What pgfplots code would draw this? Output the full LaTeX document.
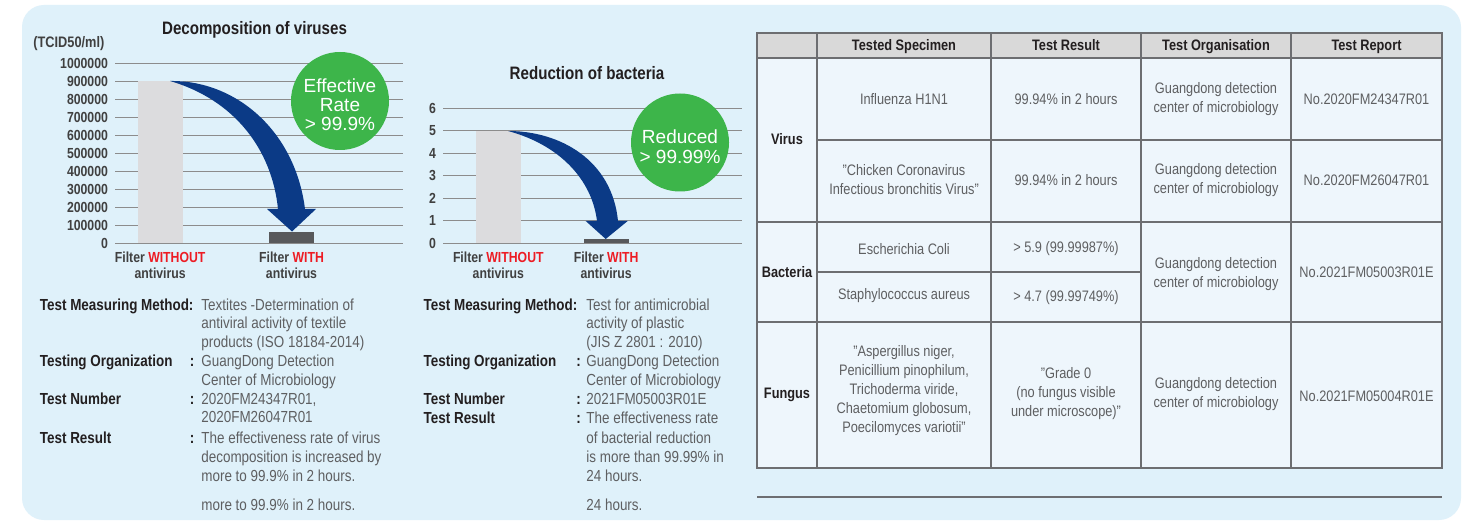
\documentclass[border=0pt]{standalone}
\usepackage{pgfplots}
\pgfplotsset{compat=1.18}
\usepackage{fontspec}
\setmainfont{Liberation Sans}[FakeStretch=0.84]
\newfontfamily\circfont{Liberation Sans}
\newcommand{\q}{\symbol{34}}
\definecolor{bgblue}{HTML}{DFF1FA}
\definecolor{cellblue}{HTML}{EEF6FC}
\definecolor{headgray}{HTML}{D9D9D9}
\definecolor{linegray}{HTML}{6D6E71}
\definecolor{gridgray}{HTML}{8C8C8C}
\definecolor{lightbar}{HTML}{DCDCDE}
\definecolor{darkbar}{HTML}{58595B}
\definecolor{arrowblue}{HTML}{0B3A86}
\definecolor{circgreen}{HTML}{3DB54A}
\definecolor{redw}{HTML}{ED1C24}
\definecolor{labcol}{HTML}{231F20}
\definecolor{valcol}{HTML}{5E5F61}
\definecolor{tickcol}{HTML}{404040}
\pgfplotsset{
  chartaxis/.style={
    anchor=south west, scale only axis,
    axis line style={draw=none}, major tick length=0pt,
    ymajorgrids, grid style={draw=gridgray, line width=0.55pt},
    xtick={0,1},
    xticklabels={{Filter \textcolor{redw}{WITHOUT}\\antivirus},{Filter \textcolor{redw}{WITH}\\antivirus}},
    scaled y ticks=false,
    /pgf/number format/fixed, /pgf/number format/1000 sep={},
    /pgf/number format/assume math mode=true,
    yticklabel style={font=\bfseries\fontsize{7.3}{8}\selectfont, text=tickcol},
    xticklabel style={align=center, font=\bfseries\fontsize{7.3}{8}\selectfont, text=tickcol, yshift=-1pt},
    clip=false,
  }
}
\begin{document}
\begin{tikzpicture}
\useasboundingbox (0,0) rectangle (732.5pt,260pt);
\fill[white] (0,0) rectangle (732.5pt,260pt);
\begin{scope}[x=0.5pt,y=-0.5pt,shift={(0,260pt)}]
  \fill[bgblue, rounded corners=11pt] (22,5) rectangle (1461,520);
  % table
  \fill[cellblue] (757,33) rectangle (1442,468);
  \fill[headgray] (757,33) rectangle (1442,58);
  \begin{scope}[draw=linegray, line width=0.6pt]
    \draw (757,33) rectangle (1442,468);
    \foreach \xx in {817,991,1141,1291} \draw (\xx,33) -- (\xx,468);
    \draw (757,58) -- (1442,58);
    \draw (817,140) -- (1442,140);
    \draw (757,222) -- (1442,222);
    \draw (817,272) -- (1141,272);
    \draw (757,322) -- (1442,322);
    \draw (757,497) -- (1442,497);
  \end{scope}
  \tikzset{th/.style={align=center, inner sep=0, font=\bfseries\fontsize{7.6}{9.5}\selectfont, text=labcol},
           tb/.style={align=center, inner sep=0, font=\fontsize{7.6}{9.5}\selectfont, text=valcol}}
  \node[th, anchor=base] at (904,50.5) {Tested Specimen};
  \node[th, anchor=base] at (1066,50.5) {Test Result};
  \node[th, anchor=base] at (1216,50.5) {Test Organisation};
  \node[th, anchor=base] at (1366.5,50.5) {Test Report};
  \node[th] at (787,139) {Virus};
  \node[th] at (787,272) {Bacteria};
  \node[th] at (787,395) {Fungus};
  \node[tb] at (904,99) {Influenza H1N1};
  \node[tb] at (1066,99) {99.94\% in 2 hours};
  \node[tb] at (1216,99.5) {Guangdong detection\\center of microbiology};
  \node[tb] at (1366.5,99) {No.2020FM24347R01};
  \node[tb] at (904,179.5) {\q Chicken Coronavirus\\Infectious bronchitis Virus\q};
  \node[tb] at (1066,180) {99.94\% in 2 hours};
  \node[tb] at (1216,180.5) {Guangdong detection\\center of microbiology};
  \node[tb] at (1366.5,180) {No.2020FM26047R01};
  \node[tb] at (904,249) {Escherichia Coli};
  \node[tb] at (1066,249) {> 5.9 (99.99987\%)};
  \node[tb] at (904,296) {Staphylococcus aureus};
  \node[tb] at (1066,298) {> 4.7 (99.99749\%)};
  \node[tb] at (1216,274.5) {Guangdong detection\\center of microbiology};
  \node[tb] at (1366.5,272) {No.2021FM05003R01E};
  \node[tb] at (904,391) {\q Aspergillus niger,\\Penicillium pinophilum,\\Trichoderma viride,\\Chaetomium globosum,\\Poecilomyces variotii\q};
  \node[tb] at (1066,394) {\q Grade 0\\(no fungus visible\\under microscope)\q};
  \node[tb] at (1216,394.5) {Guangdong detection\\center of microbiology};
  \node[tb] at (1366.5,396) {No.2021FM05004R01E};
\end{scope}

% chart 1
\begin{axis}[chartaxis, at={(57.5pt,138.35pt)}, width=144pt, height=90pt,
  xmin=-0.344, xmax=1.849, ymin=0, ymax=1000000,
  ytick={0,100000,200000,300000,400000,500000,600000,700000,800000,900000,1000000}]
  \addplot[ybar, bar width=0.343, fill=lightbar, draw=none] coordinates {(0,900000)};
  \addplot[ybar, bar width=0.343, fill=darkbar, draw=none] coordinates {(1,65000)};
\end{axis}
% chart 2
\begin{axis}[chartaxis, at={(221.5pt,138.35pt)}, width=149.5pt, height=67.5pt,
  xmin=-0.5125, xmax=2.2586, ymin=0, ymax=6,
  ytick={0,1,2,3,4,5,6}]
  \addplot[ybar, bar width=0.414, fill=lightbar, draw=none] coordinates {(0,5)};
  \addplot[ybar, bar width=0.414, fill=darkbar, draw=none] coordinates {(1,0.2)};
\end{axis}

\begin{scope}[x=0.5pt,y=-0.5pt,shift={(0,260pt)}]
  % arrows
  \fill[arrowblue] (170,81) .. controls (235,80) and (295,130) .. (305,209) -- (316,209) -- (292,231.5) -- (267,209) -- (278,209) .. controls (272,150) and (235,100) .. (170,81) -- cycle;
  \fill[arrowblue] (508,131) .. controls (560,131) and (612,160) .. (618,221) -- (627.7,221) -- (605.7,239) -- (585.7,221) -- (597,221) .. controls (592,180) and (560,145) .. (508,131) -- cycle;
  % circles
  \fill[circgreen] (340,101) circle (49);
  \fill[circgreen] (680,142.5) circle (49);
  \node[align=center, inner sep=0, text=white, font=\circfont\fontsize{9.5}{9.5}\selectfont] at (340,105) {Effective\\Rate\\> 99.9\%};
  \node[align=center, inner sep=0, text=white, font=\circfont\fontsize{9.5}{10}\selectfont] at (680,147) {Reduced\\> 99.99\%};
  % titles
  \node[anchor=base, inner sep=0, font=\bfseries\fontsize{9}{10}\selectfont, text=labcol] at (254.5,35) {Decomposition of viruses};
  \node[anchor=base, inner sep=0, font=\bfseries\fontsize{9}{10}\selectfont, text=labcol] at (587,80) {Reduction of bacteria};
  \node[anchor=base west, inner sep=0, font=\bfseries\fontsize{7.6}{8}\selectfont, text=tickcol] at (33,47.5) {(TCID50/ml)};
  % text blocks
  \tikzset{lab/.style={anchor=base west, inner sep=0, font=\bfseries\fontsize{8}{9.6}\selectfont, text=labcol},
           val/.style={anchor=base west, inner sep=0, font=\fontsize{8}{9.6}\selectfont, text=valcol}}
  \node[lab] at (39.5,310) {Test Measuring Method:};
  \node[val] at (201,310) {Textites -Determination of};
  \node[val] at (201,328.7) {antiviral activity of textile};
  \node[val] at (201,347.7) {products (ISO 18184-2014)};
  \node[lab] at (39.5,366.7) {Testing Organization};
  \node[lab] at (189.5,366.7) {:};
  \node[val] at (201,366.7) {GuangDong Detection};
  \node[val] at (201,385.7) {Center of Microbiology};
  \node[lab] at (39.5,404) {Test Number};
  \node[lab] at (189.5,404) {:};
  \node[val] at (201,404) {2020FM24347R01,};
  \node[val] at (201,422.7) {2020FM26047R01};
  \node[lab] at (39.5,443.3) {Test Result};
  \node[lab] at (189.5,443.3) {:};
  \node[val] at (201,443.3) {The effectiveness rate of virus};
  \node[val] at (201,462.3) {decomposition is increased by};
  \node[val] at (201,481) {more to 99.9\% in 2 hours.};
  \node[val] at (201,510) {more to 99.9\% in 2 hours.};
  \node[lab] at (423.3,310) {Test Measuring Method:};
  \node[val] at (586,310) {Test for antimicrobial};
  \node[val] at (586,328.7) {activity of plastic};
  \node[val] at (586,347.7) {(JIS Z 2801 : 2010)};
  \node[lab] at (423.3,366.7) {Testing Organization};
  \node[lab] at (576,366.7) {:};
  \node[val] at (586,366.7) {GuangDong Detection};
  \node[val] at (586,385.7) {Center of Microbiology};
  \node[lab] at (423.3,404) {Test Number};
  \node[lab] at (576,404) {:};
  \node[val] at (586,404) {2021FM05003R01E};
  \node[lab] at (423.3,423.3) {Test Result};
  \node[lab] at (576,423.3) {:};
  \node[val] at (586,423.3) {The effectiveness rate};
  \node[val] at (586,443.3) {of bacterial reduction};
  \node[val] at (586,462.3) {is more than 99.99\% in};
  \node[val] at (586,481) {24 hours.};
  \node[val] at (586,510) {24 hours.};
\end{scope}
\end{tikzpicture}
\end{document}
